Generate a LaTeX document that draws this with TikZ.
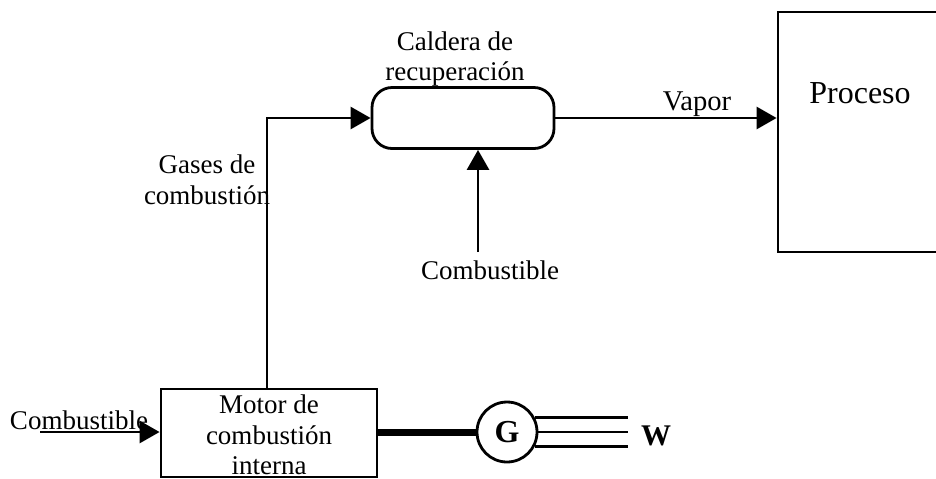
\documentclass[tikz,border=0pt]{standalone}
\usepackage{fontspec}
\setmainfont{Liberation Serif}
\usetikzlibrary{arrows.meta}
\begin{document}
\begin{tikzpicture}[x=0.5pt,y=-0.5pt,
  line width=1.4pt,
  arr/.style={-{Triangle[length=10pt,width=11pt]}},
  lbl/.style={inner sep=0pt,align=center,font=\fontsize{13.5}{15.3}\selectfont},
  blk/.style={draw,rectangle,inner sep=0pt}]
\useasboundingbox (0,0) rectangle (936,478);
% blocks
\node[blk,minimum width=108pt,minimum height=44pt] (motor) at (269,433) {};
\node[lbl] (motortxt) at (269,435) {Motor de\\combustión\\interna};
\node[draw,rounded corners=10pt,minimum width=91pt,minimum height=30.5pt,inner sep=0pt] (cald) at (463,118) {};
\node[lbl] (caldtxt) at (455,59) {Caldera de\\recuperación};
\node[blk,minimum width=112pt,minimum height=120pt] (proc) at (890,132) {};
\node[lbl,font=\fontsize{16}{18}\selectfont] (proctxt) at (860,93) {Proceso};
\node[draw,circle,minimum size=30pt,inner sep=0pt,font=\fontsize{16}{18}\selectfont\bfseries] (G) at (507,432) {G};
\node[lbl,font=\fontsize{15}{16}\selectfont\bfseries] (W) at (656,436) {W};
% labels
\node[lbl] (comb1) at (79,420) {Combustible};
\node[lbl] (comb2) at (490,270) {Combustible};
\node[lbl] (gases) at (207,180) {Gases de\\combustión};
\node[lbl,font=\fontsize{14.3}{16}\selectfont] (vapor) at (697,104) {Vapor};
% coordinates
\coordinate (c1) at (40,432);
\coordinate (c2) at (478,252);
\coordinate (gx) at (267,389);
\coordinate (wend) at (628,432);
% connectors
\draw[arr] (c1) -- (c1 -| motor.west);
\draw[arr] (gx) |- (cald.west);
\draw[arr] (cald.east) -- (cald.east -| proc.west);
\draw[arr] (c2) -- (c2 |- cald.south);
\draw[line width=3.5pt] (motor.east |- G) -- (G.west);
\draw (G.28) -- (G.28 -| wend);
\draw (G.east) -- (wend);
\draw (G.-28) -- (G.-28 -| wend);
\end{tikzpicture}
\end{document}
